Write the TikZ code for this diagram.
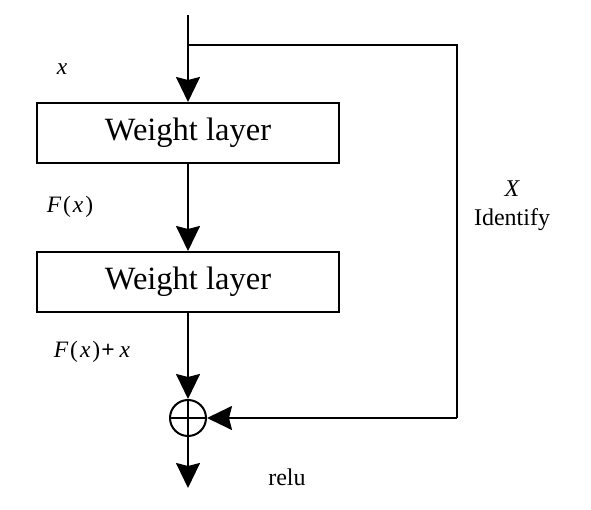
\documentclass[tikz,border=0pt]{standalone}
\usepackage{fontspec}
\setmainfont{Liberation Serif}
\usetikzlibrary{arrows.meta}
\begin{document}
\begin{tikzpicture}[x=1pt,y=1pt,
  line width=2pt,
  arr/.style={-{Stealth[length=25pt,width=24pt,inset=3pt]}},
  wbox/.style={draw,minimum width=302pt,minimum height=60pt,inner sep=0pt,font=\fontsize{32.5}{35}\selectfont},
  lbl/.style={font=\fontsize{23.5}{26}\selectfont,inner sep=0pt},
  tlbl/.style={font=\fontsize{24}{26}\selectfont,inner sep=0pt},
  sumnode/.style={draw,circle,minimum size=36pt,inner sep=0pt}]
\useasboundingbox (0,0) rectangle (591,509);
\coordinate (top) at (188,494);
\coordinate (branch) at (188,464);
\coordinate (c1) at (457,464);
\coordinate (c2) at (457,91);
\coordinate (out) at (188,21);
\node[wbox] (w1) at (188,376) {Weight layer};
\node[wbox] (w2) at (188,227) {Weight layer};
\node[sumnode] (s) at (188,91) {};
\draw (s.north) -- (s.south);
\draw (s.west) -- (s.east);
\draw[arr] (top) -- (w1.north);
\draw (branch) -- (c1) -- (c2);
\draw[arr] (c2) -- (s.east);
\draw[arr] (w1.south) -- (w2.north);
\draw[arr] (w2.south) -- (s.north);
\draw[arr] (s.south) -- (out);
\node[lbl] (lx) at (62,440) {\itshape x};
\node[lbl] (lf) at (70,302) {\itshape F\upshape\kern2pt(\kern2pt\itshape x\upshape\kern2pt)};
\node[lbl] (lfx) at (92,157) {\itshape F\upshape\kern2pt(\kern2pt\itshape x\upshape\kern2pt)\kern1pt\textbf{+}\kern5pt\itshape x};
\node[tlbl] (lr) at (287,32) {relu};
\node[tlbl] (lX) at (512,320) {\itshape X};
\node[tlbl] (lid) at (512,289) {Identify};
\end{tikzpicture}
\end{document}
